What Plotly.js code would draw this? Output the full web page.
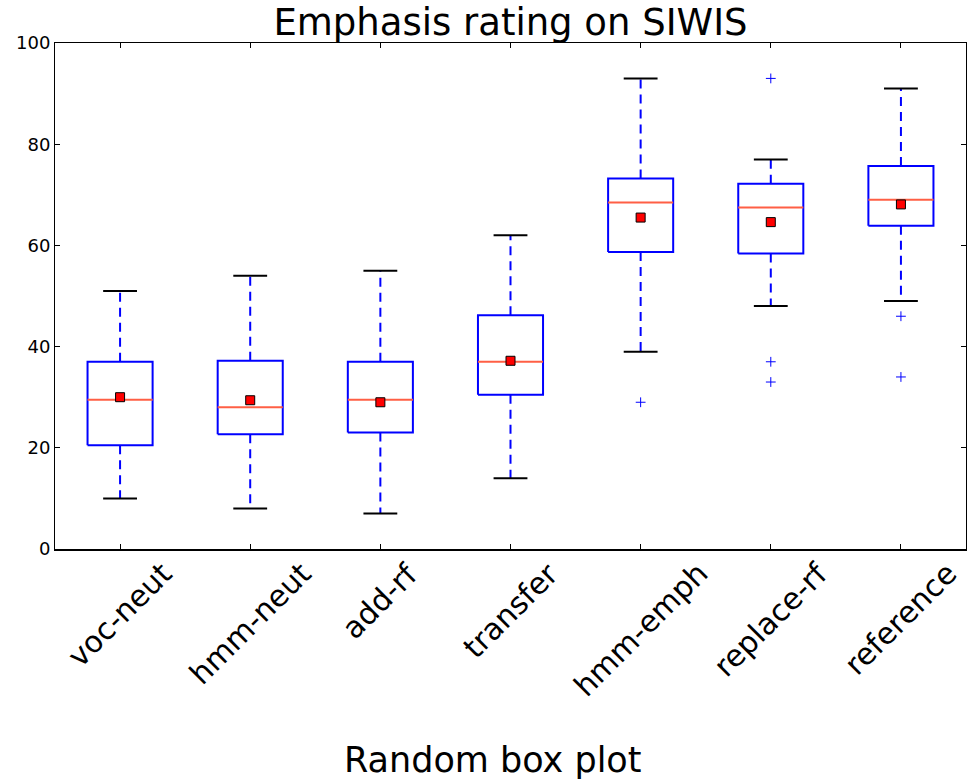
<!DOCTYPE html>
<html>
<head>
<meta charset="utf-8">
<script src="https://cdn.plot.ly/plotly-3.0.1.min.js"></script>
<style>html,body{margin:0;padding:0;background:#fff;}#chart{width:967px;height:779px;}</style>
</head>
<body>
<div id="chart"></div>
<script>
// ---- data ----
const categories = ["voc-neut", "hmm-neut", "add-rf", "transfer", "hmm-emph", "replace-rf", "reference"];
const lowerWhisker = [10, 8, 7, 14, 39, 48, 49];
const q1 = [20.5, 22.7, 23, 30.5, 58.7, 58.4, 63.9];
const medians = [29.5, 28, 29.5, 37, 68.5, 67.5, 69];
const q3 = [37, 37.2, 37, 46.2, 73.2, 72.2, 75.7];
const upperWhisker = [51, 54, 55, 62, 93, 77, 91];
const means = [30, 29.4, 29, 37.2, 65.5, 64.6, 68.1];
const outliers = [[], [], [], [], [29], [93, 37, 33], [46, 34]];
const yTicks = [0, 20, 40, 60, 80, 100];

// ---- geometry helpers ----
const pos = categories.map((c, i) => i + 1);
const boxHalf = 0.25, capHalf = 0.13;

const boxX = [], boxY = [], whX = [], whY = [], capX = [], capY = [], medX = [], medY = [];
pos.forEach((p, i) => {
  boxX.push(p - boxHalf, p + boxHalf, p + boxHalf, p - boxHalf, p - boxHalf, null);
  boxY.push(q1[i], q1[i], q3[i], q3[i], q1[i], null);
  whX.push(p, p, null, p, p, null);
  whY.push(q3[i], upperWhisker[i], null, q1[i], lowerWhisker[i], null);
  capX.push(p - capHalf, p + capHalf, null, p - capHalf, p + capHalf, null);
  capY.push(upperWhisker[i], upperWhisker[i], null, lowerWhisker[i], lowerWhisker[i], null);
  medX.push(p - boxHalf, p + boxHalf, null);
  medY.push(medians[i], medians[i], null);
});
const outX = [], outY = [];
outliers.forEach((arr, i) => arr.forEach(v => { outX.push(pos[i]); outY.push(v); }));

const traces = [
  {x: whX, y: whY, mode: 'lines', line: {color: '#0000ff', width: 2, dash: '9px,6px'}, hoverinfo: 'skip'},
  {x: capX, y: capY, mode: 'lines', line: {color: '#000000', width: 2}, hoverinfo: 'skip'},
  {x: boxX, y: boxY, mode: 'lines', line: {color: '#0000ff', width: 2}, hoverinfo: 'skip'},
  {x: medX, y: medY, mode: 'lines', line: {color: '#ff5f45', width: 2}, hoverinfo: 'skip'},
  {x: pos, y: means, mode: 'markers', marker: {symbol: 'square', size: 9, color: '#ff0000', line: {color: '#000000', width: 1}}},
  {x: outX, y: outY, mode: 'markers', marker: {symbol: 'cross-thin-open', size: 7, color: '#0000ff', line: {color: '#0000ff', width: 1}}}
];

const font = 'DejaVu Sans, sans-serif';
const annotations = categories.map((c, i) => ({
  x: pos[i], xref: 'x', y: 0, yref: 'paper', text: c, showarrow: false,
  textangle: -45, xanchor: 'center', yanchor: 'top', yshift: -4,
  font: {family: font, size: 30, color: '#000'}
}));
annotations.push({
  x: 0.481, xref: 'paper', y: -0.417, yref: 'paper', text: 'Random box plot', showarrow: false,
  xanchor: 'center', yanchor: 'middle', font: {family: font, size: 35, color: '#000'}
});

const layout = {
  width: 967, height: 779,
  margin: {l: 55, r: 1, t: 43, b: 230},
  paper_bgcolor: '#fff', plot_bgcolor: '#fff',
  showlegend: false,
  title: {text: 'Emphasis rating on SIWIS', x: 0.5, xref: 'paper', y: 0.972, yref: 'container', yanchor: 'middle',
          font: {family: font, size: 37, color: '#000'}},
  xaxis: {range: [0.5, 7.5], tickvals: pos, ticktext: categories, showticklabels: false,
          ticks: 'inside', ticklen: 5, tickcolor: '#000', showline: true, linecolor: '#000', linewidth: 1.5,
          mirror: 'ticks', showgrid: false, zeroline: false},
  yaxis: {range: [0, 100], tickvals: yTicks, ticks: 'inside', ticklen: 5, tickcolor: '#000',
          showline: true, linecolor: '#000', linewidth: 1, mirror: 'ticks', showgrid: false, zeroline: false,
          tickfont: {family: font, size: 18, color: '#000'}},
  annotations: annotations
};

Plotly.newPlot('chart', traces, layout, {displayModeBar: false, staticPlot: true});
</script>
</body>
</html>
